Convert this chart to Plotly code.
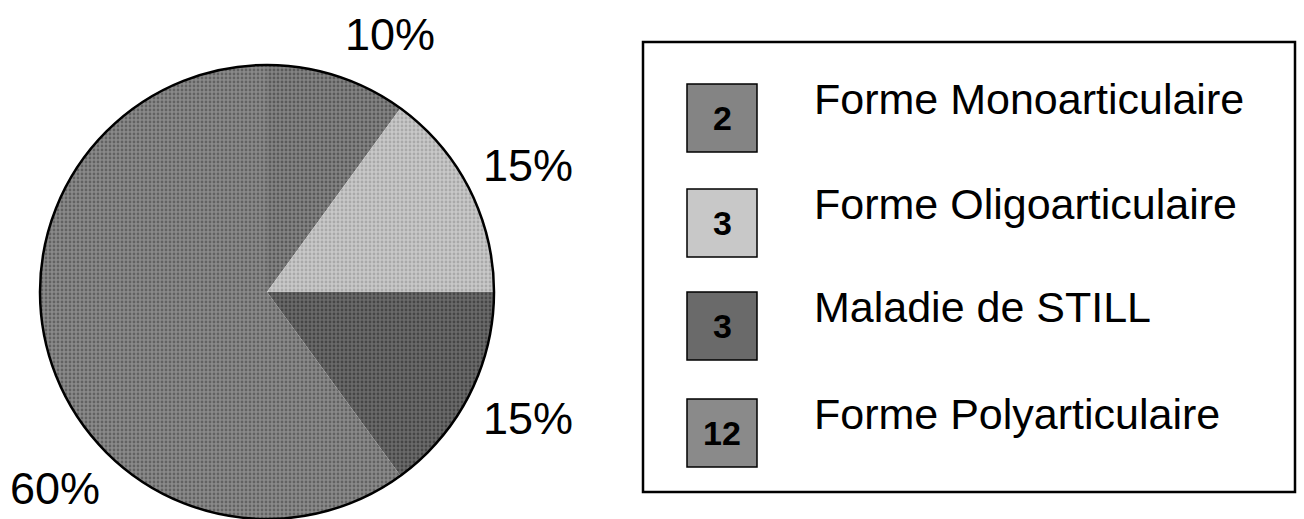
import plotly.graph_objects as go

# ---- data ----
categories = ["Forme Monoarticulaire", "Forme Oligoarticulaire", "Maladie de STILL", "Forme Polyarticulaire"]
counts = [2, 3, 3, 12]

# ---- styles ----
fill_colors = ["#848484", "#c8c8c8", "#6a6a6a", "#8a8a8a"]
fg_colors = ["#303030", "#8a8a8a", "#222222", "#3a3a3a"]
W, H = 1304, 519
FONT = "Liberation Sans, Arial, sans-serif"

def px(x):
    return x / W

def py(y):
    return 1 - y / H

pie_dom_x = [px(40), px(494)]
pie_dom_y = [0.0, py(65)]

fig = go.Figure()
fig.add_trace(go.Pie(
    labels=categories, values=counts, sort=False, direction="clockwise", rotation=0,
    textinfo="none", hoverinfo="label+value+percent", showlegend=False,
    domain=dict(x=pie_dom_x, y=pie_dom_y),
    marker=dict(
        colors=fill_colors,
        line=dict(color="#333333", width=0),
        pattern=dict(shape=".", size=4, solidity=0.4, fgcolor=fg_colors,
                     fillmode="overlay"),
    ),
))
# outer black outline
fig.add_trace(go.Pie(
    values=[1], labels=["outline"], sort=False, textinfo="none", hoverinfo="skip",
    showlegend=False, domain=dict(x=pie_dom_x, y=pie_dom_y),
    marker=dict(colors=["rgba(0,0,0,0)"], line=dict(color="black", width=2.5)),
))

total = sum(counts)
pct_labels = [f"{round(c / total * 100)}%" for c in counts]
# label anchor points (pixel centers) for each slice label
label_pos = [(390, 34), (528, 165), (528, 418), (55, 488)]
annotations = []
for txt, (lx, ly) in zip(pct_labels, label_pos):
    annotations.append(dict(
        x=px(lx), y=py(ly), xref="paper", yref="paper", text=txt, showarrow=False,
        xanchor="center", yanchor="middle", font=dict(family=FONT, size=45, color="black"),
    ))

shapes = [dict(type="rect", xref="paper", yref="paper", x0=px(643), x1=px(1295),
               y0=py(492), y1=py(42), line=dict(color="black", width=2.5),
               fillcolor="rgba(0,0,0,0)")]

row_tops = [84, 189, 292, 399]
sw_h = 68
for i, (cat, c) in enumerate(zip(categories, counts)):
    top = row_tops[i]
    shapes.append(dict(type="rect", xref="paper", yref="paper", x0=px(687), x1=px(757),
                       y0=py(top + sw_h), y1=py(top), line=dict(color="black", width=1.5),
                       fillcolor=fill_colors[i]))
    annotations.append(dict(
        x=px(722), y=py(top + sw_h / 2), xref="paper", yref="paper", text=f"<b>{c}</b>",
        showarrow=False, xanchor="center", yanchor="middle",
        font=dict(family=FONT, size=34, color="black"),
    ))
    annotations.append(dict(
        x=px(812), y=py(top + 15), xref="paper", yref="paper", text=cat,
        showarrow=False, xanchor="left", yanchor="middle",
        font=dict(family=FONT, size=43, color="black"),
    ))

fig.update_layout(
    width=W, height=H, margin=dict(l=0, r=0, t=0, b=0),
    paper_bgcolor="white", plot_bgcolor="white",
    shapes=shapes, annotations=annotations,
)
fig.write_html("out.html")
